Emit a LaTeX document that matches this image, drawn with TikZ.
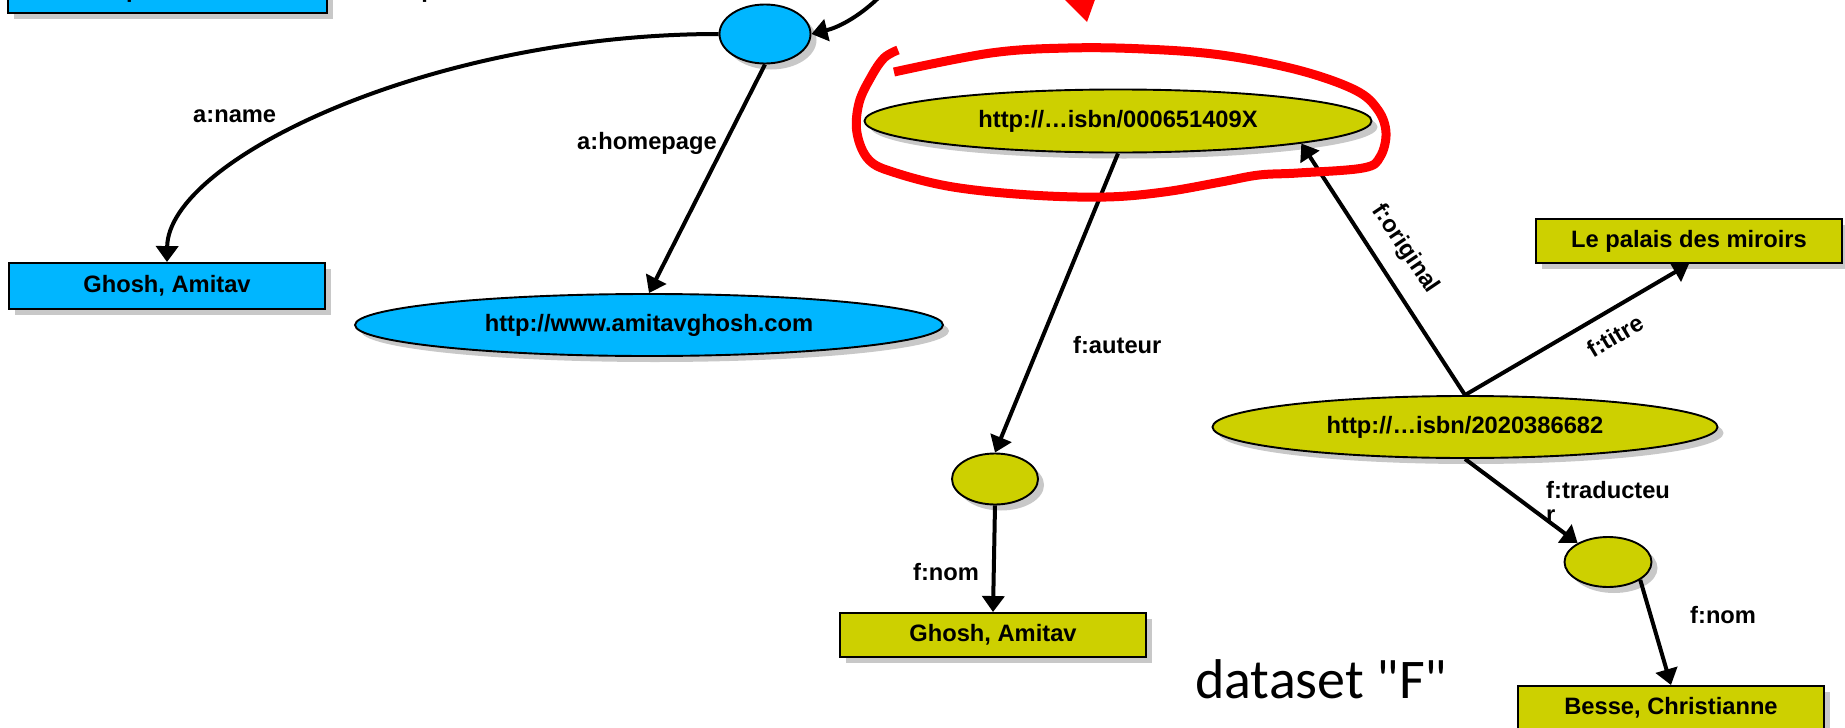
\documentclass[tikz,border=0pt]{standalone}
\usepackage{fontspec}
\setmainfont{Liberation Sans}
\newfontfamily\captionfont{Carlito}
\usetikzlibrary{arrows.meta,shapes.geometric,shadows}

\definecolor{skyfill}{RGB}{0,182,255}
\definecolor{olivefill}{RGB}{205,208,0}
\definecolor{shadowgray}{RGB}{200,200,200}

\tikzset{
  graphnode/.style={draw=black, line width=1.9pt, inner sep=0pt,
    font=\fontsize{23.7}{28}\selectfont\bfseries,
    drop shadow={shadow xshift=6pt, shadow yshift=-6pt, fill=shadowgray, opacity=1}},
  literal/.style={graphnode, rectangle, minimum width=306pt, minimum height=44pt},
  resource/.style={graphnode, ellipse},
  skynode/.style={fill=skyfill},
  olivenode/.style={fill=olivefill},
  conn/.style={draw=black, line width=4pt, -{Triangle[length=16pt,width=22pt]}},
  proplabel/.style={inner sep=0pt, font=\fontsize{23.7}{24}\selectfont\bfseries},
  marker/.style={draw=red, line width=9pt, line cap=butt, line join=round}
}

\begin{document}
\begin{tikzpicture}[x=1pt, y=-1pt]
  \clip (0,0) rectangle (1845,728);
  \fill[white] (0,0) rectangle (1845,728);

  % dataset A (blue)
  \node[literal, skynode, minimum width=319pt] (harper) at (167.5,-9) {Harper Collins};
  \node[literal, skynode, minimum width=316pt, minimum height=46pt] (bname) at (167,286) {Ghosh, Amitav};
  \node[resource, skynode, minimum width=91pt, minimum height=59pt] (bc) at (765,34) {};
  \node[resource, skynode, minimum width=588pt, minimum height=62pt] (bhome) at (649,325) {http://www.amitavghosh.com};
  \coordinate (topin) at (905,-40);

  % dataset F (olive)
  \node[resource, olivenode, minimum width=507pt, minimum height=63pt] (y1) at (1118,121) {http://…isbn/000651409X};
  \node[resource, olivenode, minimum width=86pt, minimum height=51pt] (y2) at (995,479) {};
  \node[literal, olivenode] (yname) at (993,635) {Ghosh, Amitav};
  \node[resource, olivenode, minimum width=505pt, minimum height=62pt] (y3) at (1465,427) {http://…isbn/2020386682};
  \node[literal, olivenode] (titre) at (1689,241) {Le palais des miroirs};
  \node[resource, olivenode, minimum width=87pt, minimum height=50pt] (y4) at (1608,562) {};
  \node[literal, olivenode] (besse) at (1671,708) {Besse, Christianne};

  % connectors
  \draw[conn] (topin) .. controls (893,-8) and (852,24) .. (bc.east);
  \draw[conn] (bc.west) .. controls (430,34) and (168,160) .. (bname.north);
  \draw[conn] (bc.south) -- (bhome.north);
  \draw[conn] (y1.south) -- (y2.north);
  \draw[conn] (y2.south) -- (yname.north);
  \draw[conn] (y3.north) -- (y1.-7.4);
  \draw[conn] (y3.north) -- (titre.south);
  \draw[conn] (y3.south) -- (y4.148);
  \draw[conn] (y4.-29) -- (besse.north);

  % property labels
  \node[proplabel, anchor=base west] (lpub) at (400,-2) {a:p\_name};
  \node[proplabel, anchor=base west] (lname) at (193,122) {a:name};
  \node[proplabel, anchor=base west] (lhome) at (577,149) {a:homepage};
  \node[proplabel, anchor=base west] (laut) at (1073,353) {f:auteur};
  \node[proplabel, anchor=base west] (lnom1) at (913,580) {f:nom};
  \node[proplabel, anchor=base west] (lnom2) at (1690,623) {f:nom};
  \node[proplabel, rotate=-56] (lorig) at (1405,249) {f:original};
  \node[proplabel, rotate=31] (ltitre) at (1615,336) {f:titre};
  \node[proplabel, anchor=north west, align=left] (ltrad) at (1546,481) {f:traducteu\\r};

  % highlight around the original book
  \draw[marker] plot[smooth, tension=0.6] coordinates {
    (894,72) (991,53) (1068,48) (1144,49) (1221,55) (1298,70) (1355,90)
    (1378,110) (1386,133) (1380,157) (1363,168) (1298,173) (1259,175)
    (1221,182) (1164,192) (1106,197) (1030,195) (953,187) (896,173)
    (869,160) (857,133) (859,103) (871,77) (884,58) (898,50)};
  \fill[red] (1045,-20) -- (1102,-20) -- (1087,22) -- cycle;

  % caption
  \node[inner sep=0pt, anchor=base west, font=\captionfont\fontsize{56}{60}\selectfont] (ds) at (1195,698) {dataset "F"};
\end{tikzpicture}
\end{document}
